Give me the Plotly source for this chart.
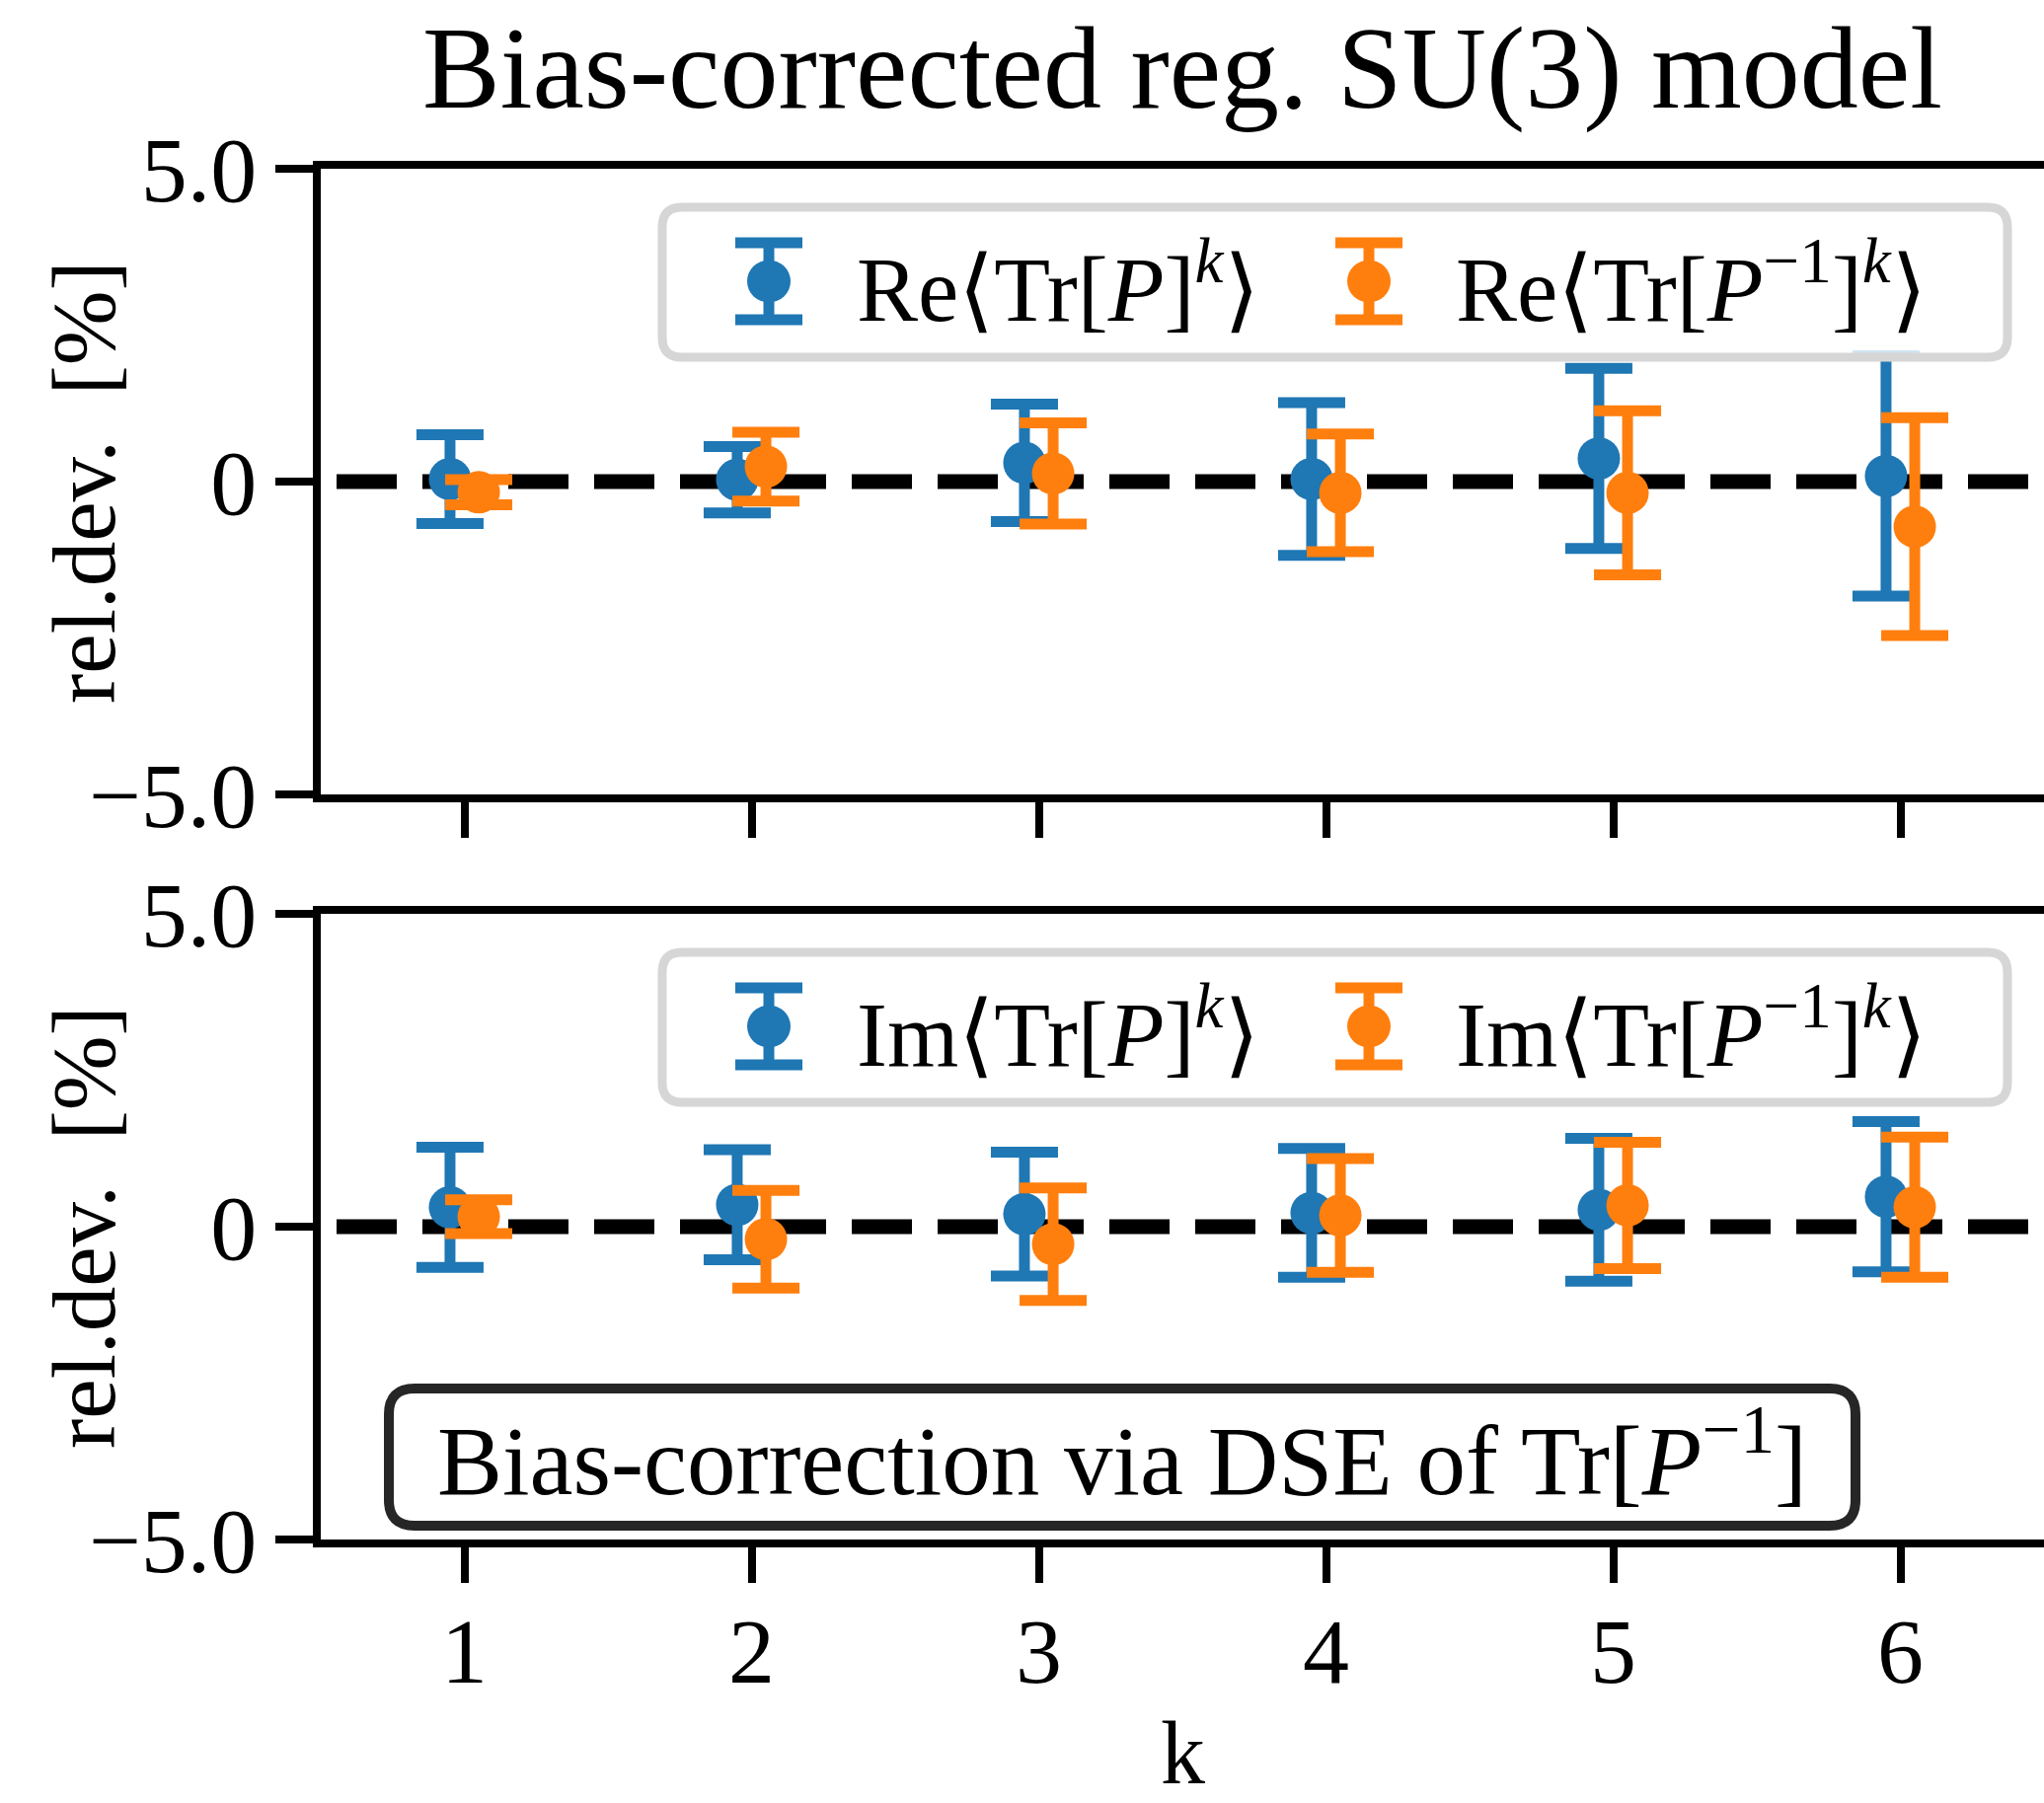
import plotly.graph_objects as go

# ---------------- data ----------------
k = [1, 2, 3, 4, 5, 6]
k_labels = ["1", "2", "3", "4", "5", "6"]

re_p = [0.04, 0.03, 0.30, 0.04, 0.37, 0.09]
re_p_err = [0.71, 0.53, 0.94, 1.22, 1.44, 1.92]
re_pinv = [-0.17, 0.24, 0.13, -0.18, -0.18, -0.72]
re_pinv_err = [0.20, 0.55, 0.81, 0.94, 1.31, 1.74]

im_p = [0.31, 0.35, 0.20, 0.22, 0.27, 0.48]
im_p_err = [0.96, 0.88, 0.99, 1.03, 1.14, 1.20]
im_pinv = [0.16, -0.20, -0.28, 0.18, 0.34, 0.31]
im_pinv_err = [0.27, 0.78, 0.90, 0.91, 1.01, 1.12]

y_ticks = [-5, 0, 5]
y_ticklabels = ["\u22125.0", "0", "5.0"]

title_text = "Bias-corrected reg. SU(3) model"
ylabel_text = "rel.dev.&nbsp;&nbsp;[%]"
xlabel_text = "k"
legend_top = ["Re\u27e8Tr[<i>P</i>]<sup><i>k</i></sup>\u27e9",
              "Re\u27e8Tr[<i>P</i><sup>\u22121</sup>]<sup><i>k</i></sup>\u27e9"]
legend_bot = ["Im\u27e8Tr[<i>P</i>]<sup><i>k</i></sup>\u27e9",
              "Im\u27e8Tr[<i>P</i><sup>\u22121</sup>]<sup><i>k</i></sup>\u27e9"]
note_text = "Bias-correction via DSE of Tr[<i>P</i><sup>\u22121</sup>]"

# ---------------- style ----------------
BLUE = "#1f77b4"
ORANGE = "#ff7f0e"
FONT = "Liberation Serif"
W, H = 2071, 1827
L, R, T, B = 325, 0, 171, 1827 - 1560
PW, PH = W - L - R, H - T - B
DX = 0.05


def px(x):
    return (x - L) / PW


def py(y):
    return (H - B - y) / PH


top_dom = [py(805), 1.0]
bot_dom = [0.0, py(926)]

fig = go.Figure()


def add_series(xs, ys, es, color, name, xa, ya):
    fig.add_trace(go.Scatter(
        x=xs, y=ys, mode="markers", name=name, showlegend=False,
        xaxis=xa, yaxis=ya,
        marker=dict(color=color, size=43, line=dict(width=0)),
        error_y=dict(type="data", array=es, visible=True, color=color,
                     thickness=11, width=34),
    ))


add_series([v - DX for v in k], re_p, re_p_err, BLUE, "Re Tr[P]^k", "x", "y")
add_series([v + DX for v in k], re_pinv, re_pinv_err, ORANGE, "Re Tr[P^-1]^k", "x", "y")
add_series([v - DX for v in k], im_p, im_p_err, BLUE, "Im Tr[P]^k", "x2", "y2")
add_series([v + DX for v in k], im_pinv, im_pinv_err, ORANGE, "Im Tr[P^-1]^k", "x2", "y2")

shapes = []
# dashed zero lines
for xr, yr in (("x", "y"), ("x2", "y2")):
    shapes.append(dict(type="line", xref=xr, yref=yr, x0=0.5 + 16 / 291.0, x1=6.5,
                       y0=0, y1=0, layer="below",
                       line=dict(color="black", width=15, dash="61px,26px")))


def rrect(x0, y0, x1, y1, r):
    pts = [
        ("M", [(x0 + r, y0)]), ("L", [(x1 - r, y0)]), ("Q", [(x1, y0), (x1, y0 + r)]),
        ("L", [(x1, y1 - r)]), ("Q", [(x1, y1), (x1 - r, y1)]), ("L", [(x0 + r, y1)]),
        ("Q", [(x0, y1), (x0, y1 - r)]), ("L", [(x0, y0 + r)]), ("Q", [(x0, y0), (x0 + r, y0)]),
    ]
    s = ""
    for cmd, ps in pts:
        s += cmd + " " + " ".join("%.6f,%.6f" % (px(a), py(b)) for a, b in ps) + " "
    return s + "Z"


annotations = []


def legend_block(dy, labels):
    shapes.append(dict(type="path", xref="paper", yref="paper", layer="above",
                       path=rrect(671, 210 + dy, 2034, 362 + dy, 20),
                       fillcolor="rgba(255,255,255,0.8)",
                       line=dict(color="#d6d6d6", width=9)))
    for cx, col, tx, lab in ((779, BLUE, 866, labels[0]), (1387, ORANGE, 1473, labels[1])):
        cy = 285 + dy
        shapes.append(dict(type="line", xref="paper", yref="paper", layer="above",
                           x0=px(cx), x1=px(cx), y0=py(cy - 39), y1=py(cy + 39),
                           line=dict(color=col, width=11)))
        for yy in (cy - 39, cy + 39):
            shapes.append(dict(type="line", xref="paper", yref="paper", layer="above",
                               x0=px(cx - 34), x1=px(cx + 34), y0=py(yy), y1=py(yy),
                               line=dict(color=col, width=11)))
        shapes.append(dict(type="circle", xref="paper", yref="paper", layer="above",
                           x0=px(cx - 22), x1=px(cx + 22), y0=py(cy + 21.5), y1=py(cy - 21.5),
                           fillcolor=col, line=dict(width=0)))
        annotations.append(dict(xref="paper", yref="paper", x=px(tx), y=py(286 + dy),
                                xanchor="left", yanchor="middle", showarrow=False,
                                text=lab, font=dict(family=FONT, size=93, color="black")))


legend_block(0, legend_top)
legend_block(755, legend_bot)

# note box in lower panel
shapes.append(dict(type="path", xref="paper", yref="paper", layer="above",
                   path=rrect(394, 1407, 1880, 1546, 26),
                   fillcolor="white", line=dict(color="#262626", width=10)))
annotations.append(dict(xref="paper", yref="paper", x=px((394 + 1880) / 2), y=py(1472),
                        xanchor="center", yanchor="middle", showarrow=False,
                        text=note_text, font=dict(family=FONT, size=99, color="black")))

# title, axis labels
annotations.append(dict(xref="paper", yref="paper", x=0.5, y=py(70),
                        xanchor="center", yanchor="middle", showarrow=False,
                        text=title_text, font=dict(family=FONT, size=118, color="black")))
annotations.append(dict(xref="paper", yref="paper", x=0.5, y=py(1827),
                        xanchor="center", yanchor="bottom", showarrow=False, borderpad=0,
                        text=xlabel_text, font=dict(family=FONT, size=90, color="black")))
for yc in (488, 1243):
    annotations.append(dict(xref="paper", yref="paper", x=px(85), y=py(yc),
                            xanchor="center", yanchor="middle", showarrow=False,
                            textangle=-90,
                            text=ylabel_text, font=dict(family=FONT, size=91, color="black")))

xcommon = dict(range=[0.5, 6.5], tickmode="array", tickvals=k, ticktext=k_labels,
               ticks="outside", ticklen=36, tickwidth=8, tickcolor="black",
               showline=True, linewidth=8, linecolor="black", mirror=True,
               showgrid=False, zeroline=False, automargin=False,
               tickfont=dict(family=FONT, size=94, color="black"))
ycommon = dict(range=[-5, 5], tickmode="array", tickvals=y_ticks, ticktext=y_ticklabels,
               ticks="outside", ticklen=38, tickwidth=8, tickcolor="black",
               showline=True, linewidth=8, linecolor="black", mirror=False,
               showgrid=False, zeroline=False, automargin=False,
               tickfont=dict(family=FONT, size=94, color="black"))

fig.update_layout(
    template="none",
    width=W, height=H,
    margin=dict(l=L, r=R, t=T, b=B, pad=0),
    paper_bgcolor="white", plot_bgcolor="white",
    showlegend=False,
    xaxis=dict(domain=[0, 1], anchor="y", showticklabels=False, **xcommon),
    yaxis=dict(domain=top_dom, anchor="x", **ycommon),
    xaxis2=dict(domain=[0, 1], anchor="y2", showticklabels=True,
                ticklabelstandoff=-12, **xcommon),
    yaxis2=dict(domain=bot_dom, anchor="x2", **ycommon),
    shapes=shapes,
    annotations=annotations,
    font=dict(family=FONT, color="black"),
)

fig.write_html("out.html")
